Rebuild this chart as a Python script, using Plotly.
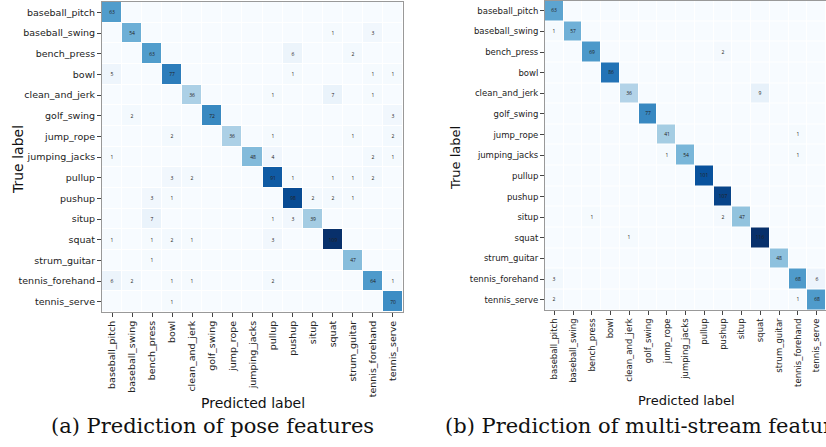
import plotly.graph_objects as go

labels = ["baseball_pitch", "baseball_swing", "bench_press", "bowl", "clean_and_jerk",
          "golf_swing", "jump_rope", "jumping_jacks", "pullup", "pushup", "situp",
          "squat", "strum_guitar", "tennis_forehand", "tennis_serve"]

# (a) pose features: rows = true label, columns = predicted label
pose_values = [
    [63, 0, 0, 0, 0, 0, 0, 0, 0, 0, 0, 0, 0, 0, 0],
    [0, 54, 0, 0, 0, 0, 0, 0, 0, 0, 0, 1, 0, 3, 0],
    [0, 0, 63, 0, 0, 0, 0, 0, 0, 6, 0, 0, 2, 0, 0],
    [5, 0, 0, 77, 0, 0, 0, 0, 0, 1, 0, 0, 0, 1, 1],
    [0, 0, 0, 0, 36, 0, 0, 0, 1, 0, 0, 7, 0, 1, 0],
    [0, 2, 0, 0, 0, 72, 0, 0, 0, 0, 0, 0, 0, 0, 3],
    [0, 0, 0, 2, 0, 0, 36, 0, 1, 0, 0, 0, 1, 0, 2],
    [1, 0, 0, 0, 0, 0, 0, 48, 4, 0, 0, 0, 0, 2, 1],
    [0, 0, 0, 3, 2, 0, 0, 0, 91, 1, 0, 1, 1, 2, 0],
    [0, 0, 3, 1, 0, 0, 0, 0, 0, 98, 2, 2, 1, 0, 0],
    [0, 0, 7, 0, 0, 0, 0, 0, 1, 3, 39, 0, 0, 0, 0],
    [1, 0, 1, 2, 1, 0, 0, 0, 3, 0, 0, 109, 0, 0, 0],
    [0, 0, 1, 0, 0, 0, 0, 0, 0, 0, 0, 0, 47, 0, 0],
    [6, 2, 0, 1, 1, 0, 0, 0, 2, 0, 0, 0, 0, 64, 1],
    [0, 0, 0, 1, 0, 0, 0, 0, 0, 0, 0, 0, 0, 0, 70],
]

# (b) multi-stream features
multi_values = [
    [63, 0, 0, 0, 0, 0, 0, 0, 0, 0, 0, 0, 0, 0, 0],
    [1, 57, 0, 0, 0, 0, 0, 0, 0, 0, 0, 0, 0, 0, 0],
    [0, 0, 69, 0, 0, 0, 0, 0, 0, 2, 0, 0, 0, 0, 0],
    [0, 0, 0, 86, 0, 0, 0, 0, 0, 0, 0, 0, 0, 0, 0],
    [0, 0, 0, 0, 36, 0, 0, 0, 0, 0, 0, 9, 0, 0, 0],
    [0, 0, 0, 0, 0, 77, 0, 0, 0, 0, 0, 0, 0, 0, 0],
    [0, 0, 0, 0, 0, 0, 41, 0, 0, 0, 0, 0, 0, 1, 0],
    [0, 0, 0, 0, 0, 0, 1, 54, 0, 0, 0, 0, 0, 1, 0],
    [0, 0, 0, 0, 0, 0, 0, 0, 101, 0, 0, 0, 0, 0, 0],
    [0, 0, 0, 0, 0, 0, 0, 0, 0, 107, 0, 0, 0, 0, 0],
    [0, 0, 1, 0, 0, 0, 0, 0, 0, 2, 47, 0, 0, 0, 0],
    [0, 0, 0, 0, 1, 0, 0, 0, 0, 0, 0, 116, 0, 0, 0],
    [0, 0, 0, 0, 0, 0, 0, 0, 0, 0, 0, 0, 48, 0, 0],
    [3, 0, 0, 0, 0, 0, 0, 0, 0, 0, 0, 0, 0, 68, 6],
    [2, 0, 0, 0, 0, 0, 0, 0, 0, 0, 0, 0, 0, 1, 68],
]

captions = ["(a) Prediction of pose features", "(b) Prediction of multi-stream features"]

blues = ["rgb(247,251,255)", "rgb(222,235,247)", "rgb(198,219,239)", "rgb(158,202,225)",
         "rgb(107,174,214)", "rgb(66,146,198)", "rgb(33,113,181)", "rgb(8,81,156)",
         "rgb(8,48,107)"]
colorscale = [[i / (len(blues) - 1), c] for i, c in enumerate(blues)]

W, H = 826, 447


def txt(m):
    return [[str(v) if v else "" for v in row] for row in m]


fig = go.Figure()
fig.add_trace(go.Heatmap(
    z=pose_values, x=labels, y=labels, text=txt(pose_values), texttemplate="%{text}",
    textfont=dict(size=5, color="#222"), colorscale=colorscale, zmin=0,
    zmax=max(max(r) for r in pose_values), showscale=False, xgap=1, ygap=1,
    xaxis="x", yaxis="y", hoverinfo="skip"))
fig.add_trace(go.Heatmap(
    z=multi_values, x=labels, y=labels, text=txt(multi_values), texttemplate="%{text}",
    textfont=dict(size=5, color="#222"), colorscale=colorscale, zmin=0,
    zmax=max(max(r) for r in multi_values), showscale=False, xgap=1, ygap=1,
    xaxis="x2", yaxis="y2", hoverinfo="skip"))

font = "DejaVu Sans"
common_ax = dict(showline=True, mirror=True, linecolor="#999", linewidth=1,
                 ticks="outside", ticklen=4, tickcolor="#444", showgrid=False,
                 zeroline=False, type="category")

fig.update_layout(
    width=W, height=H, margin=dict(l=0, r=0, t=0, b=0),
    paper_bgcolor="white", plot_bgcolor="white",
    xaxis=dict(domain=[102 / W, 403 / W], anchor="y", tickangle=-90,
               tickfont=dict(family=font, size=9.5, color="#222"), **common_ax),
    yaxis=dict(domain=[1 - 312 / H, 1 - 2 / H], anchor="x", autorange="reversed",
               tickfont=dict(family=font, size=9.5, color="#222"), **common_ax),
    xaxis2=dict(domain=[545 / W, 1.0], anchor="y2", tickangle=-90,
                tickfont=dict(family=font, size=8.5, color="#222"), **common_ax),
    yaxis2=dict(domain=[1 - 310 / H, 1 - 0.5 / H], anchor="x2", autorange="reversed",
                tickfont=dict(family=font, size=8.5, color="#222"), **common_ax),
    annotations=[
        dict(text="True label", x=18 / W, y=1 - 160 / H, xref="paper", yref="paper",
             xanchor="center", yanchor="middle",
             textangle=-90, showarrow=False, font=dict(family=font, size=14, color="#111")),
        dict(text="True label", x=455 / W, y=1 - 158 / H, xref="paper", yref="paper",
             xanchor="center", yanchor="middle",
             textangle=-90, showarrow=False, font=dict(family=font, size=13, color="#111")),
        dict(text="Predicted label", x=253 / W, y=1 - 403 / H, xref="paper", yref="paper",
             xanchor="center", yanchor="middle",
             showarrow=False, font=dict(family=font, size=14, color="#111")),
        dict(text="Predicted label", x=686 / W, y=1 - 400 / H, xref="paper", yref="paper",
             xanchor="center", yanchor="middle",
             showarrow=False, font=dict(family=font, size=13, color="#111")),
        dict(text=captions[0], x=212 / W, y=1 - 426 / H, xref="paper", yref="paper",
             xanchor="center", yanchor="middle",
             showarrow=False, font=dict(family="DejaVu Serif", size=21, color="#111")),
        dict(text=captions[1], x=443 / W, y=1 - 426 / H, xref="paper", yref="paper",
             xanchor="left", yanchor="middle", showarrow=False,
             font=dict(family="DejaVu Serif", size=21, color="#111")),
    ],
)

fig.write_html("out.html", config={"displayModeBar": False},
               post_script="document.body.style.margin='0';document.body.style.overflow='hidden';")
